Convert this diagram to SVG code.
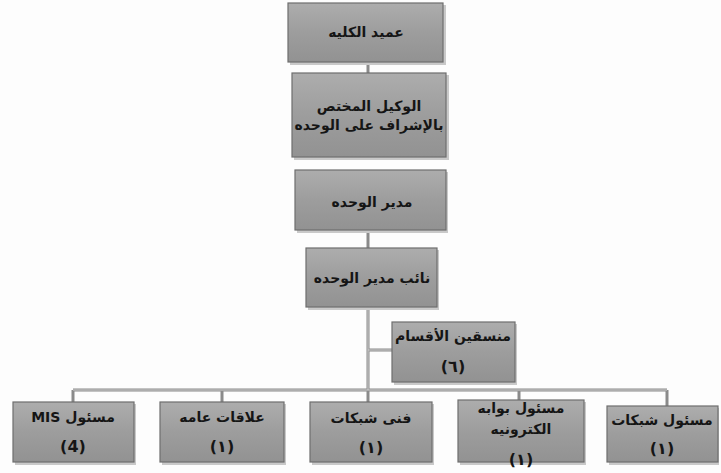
<svg xmlns="http://www.w3.org/2000/svg" width="721" height="473" viewBox="0 0 721 473">
<defs>
<linearGradient id="g" x1="0" y1="0" x2="0" y2="1">
<stop offset="0" stop-color="#adadad"/>
<stop offset="0.5" stop-color="#9d9d9d"/>
<stop offset="1" stop-color="#929292"/>
</linearGradient>
</defs>
<style>
.box{fill:url(#g);stroke:#6e6e6e;stroke-width:1.2}
.sh{fill:#c9c9c9}
.t{font-family:"DejaVu Sans",sans-serif;font-size:14px;font-weight:bold;fill:#151515;text-anchor:middle;dominant-baseline:central;direction:rtl;unicode-bidi:embed}
.n{font-size:16px}
.c{stroke:#8a8a8a;stroke-width:3;fill:none}
.ci{stroke:#d0d0d0;stroke-width:1;fill:none}
</style>
<rect width="721" height="473" fill="#fdfdfd"/>
<g id="connectors">
<path class="c" d="M368 62V73M368 230V248M368 307V390M368 350H392M73 390H667M73 390V402M222 390V402M368 390V402M519 390V400M667 390V406"/>
<path class="ci" d="M368 307V390M368 350H392M73 390H667"/>
</g>
<g id="n1">
<rect class="sh" x="290" y="5" width="156" height="60"/>
<rect class="box" x="288" y="3" width="155" height="59"/>
<text class="t" x="366" y="32">عميد الكليه</text>
</g>
<g id="n2">
<rect class="sh" x="294" y="75" width="155" height="85"/>
<rect class="box" x="292" y="73" width="154" height="84"/>
<text class="t" x="369" y="106">الوكيل  المختص</text>
<text class="t" x="369" y="125">بالإشراف على الوحده</text>
</g>
<g id="n3">
<rect class="sh" x="297" y="172" width="151" height="61"/>
<rect class="box" x="295" y="170" width="151" height="60"/>
<text class="t" x="372" y="202">مدير الوحده</text>
</g>
<g id="n4">
<rect class="sh" x="308" y="250" width="131" height="60"/>
<rect class="box" x="306" y="248" width="131" height="59"/>
<text class="t" x="372" y="278">نائب مدير الوحده</text>
</g>
<g id="n5">
<rect class="sh" x="394" y="324" width="123" height="61"/>
<rect class="box" x="392" y="322" width="123" height="60"/>
<text class="t" x="453" y="336">منسقين الأقسام</text>
<text class="t n" x="453" y="366">(٦)</text>
</g>
<g id="n6">
<rect class="sh" x="15" y="404" width="121" height="61"/>
<rect class="box" x="13" y="402" width="121" height="60"/>
<text class="t" x="73" y="417">مسئول MIS</text>
<text class="t n" x="73" y="446">(4)</text>
</g>
<g id="n7">
<rect class="sh" x="162" y="404" width="124" height="61"/>
<rect class="box" x="160" y="402" width="124" height="60"/>
<text class="t" x="222" y="417">علاقات عامه</text>
<text class="t n" x="222" y="446">(١)</text>
</g>
<g id="n8">
<rect class="sh" x="312" y="404" width="122" height="61"/>
<rect class="box" x="310" y="402" width="122" height="60"/>
<text class="t" x="371" y="418">فنى شبكات</text>
<text class="t n" x="371" y="447">(١)</text>
</g>
<g id="n9">
<rect class="sh" x="460" y="402" width="126" height="63"/>
<rect class="box" x="458" y="400" width="126" height="62"/>
<text class="t" x="521" y="408">مسئول بوابه</text>
<text class="t" x="521" y="429">الكترونيه</text>
<text class="t n" x="521" y="459">(١)</text>
</g>
<g id="n10">
<rect class="sh" x="609" y="408" width="110" height="57"/>
<rect class="box" x="607" y="406" width="111" height="56"/>
<text class="t" x="662" y="420">مسئول شبكات</text>
<text class="t n" x="662" y="448">(١)</text>
</g>
</svg>
